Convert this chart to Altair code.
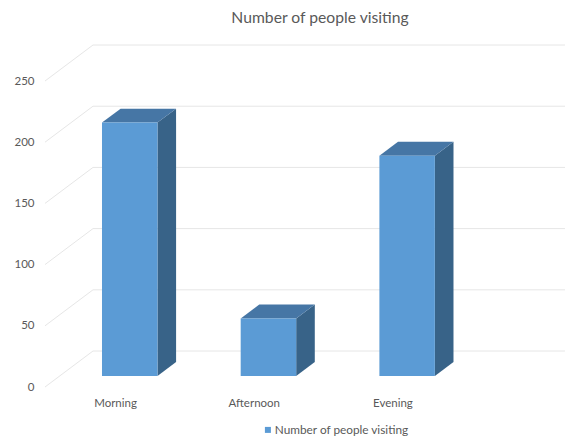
import json
import altair as alt
import pandas as pd

# Chart values
times = ["Morning", "Afternoon", "Evening"]
visitors = [207, 47, 180]
series_name = "Number of people visiting"
value_ticks = [0, 50, 100, 150, 200, 250]

# Oblique projection: a point at depth d (0 = front of floor, 1 = back wall)
# is shifted right and up by d times these amounts, in data units.
DEPTH_X = 0.346
DEPTH_Y = 29.4
BAR_FRONT = 0.306
BAR_BACK = 0.694
BAR_HALF = 0.2
X_DOMAIN = [-0.505, 2.898]

x_scale = alt.Scale(domain=X_DOMAIN, nice=False, zero=False)
y_scale = alt.Scale(domain=[0, 250], nice=False)


def px(x, d):
    return x + d * DEPTH_X


def py(v, d):
    return v + d * DEPTH_Y


# Floor-to-wall diagonals and back-wall gridlines
walls = pd.DataFrame(
    [
        {
            "x_front": X_DOMAIN[0],
            "x_back": px(X_DOMAIN[0], 1),
            "x_end": px(X_DOMAIN[1], 1),
            "y_front": v,
            "y_back": py(v, 1),
        }
        for v in value_ticks
    ]
)

front_rows, side_rows, top_rows = [], [], []
for i, (t, v) in enumerate(zip(times, visitors)):
    left, right = i - BAR_HALF, i + BAR_HALF
    front_rows.append(
        {
            "x": px(left, BAR_FRONT),
            "x2": px(right, BAR_FRONT),
            "y": py(v, BAR_FRONT),
            "y2": py(0, BAR_FRONT),
            "series": series_name,
        }
    )
    for d in (BAR_FRONT, BAR_BACK):
        side_rows.append(
            {"bar": t, "x": px(right, d), "y": py(v, d), "y2": py(0, d)}
        )
        top_rows.append(
            {"bar": t, "y": py(v, d), "x": px(left, d), "x2": px(right, d)}
        )

front = pd.DataFrame(front_rows)
side = pd.DataFrame(side_rows)
top = pd.DataFrame(top_rows)

GRID = "#e6e6e6"
TEXT = "#595959"
FONT = "Lato"

# The same axis definitions go on every layer so they merge cleanly
x_axis = alt.Axis(
    title=None,
    values=[0, 1, 2],
    labelExpr=f"{json.dumps(times)}[datum.value]",
    domain=False,
    ticks=False,
    grid=False,
    labelPadding=10,
    labelFontSize=11.5,
    labelColor=TEXT,
    labelFont=FONT,
)
y_axis = alt.Axis(
    title=None,
    values=value_ticks,
    domain=False,
    ticks=False,
    grid=False,
    labelPadding=11,
    labelFontSize=11.5,
    labelColor=TEXT,
    labelFont=FONT,
)


def xq(field):
    return alt.X(field, scale=x_scale, axis=x_axis)


def yq(field):
    return alt.Y(field, scale=y_scale, axis=y_axis)


side_wall = (
    alt.Chart(walls)
    .mark_rule(color=GRID, strokeWidth=1)
    .encode(x=xq("x_front:Q"), x2="x_back:Q", y=yq("y_front:Q"), y2="y_back:Q")
)
back_wall = (
    alt.Chart(walls)
    .mark_rule(color=GRID, strokeWidth=1)
    .encode(x=xq("x_back:Q"), x2="x_end:Q", y=yq("y_back:Q"))
)
side_faces = (
    alt.Chart(side)
    .mark_area(color="#386388")
    .encode(x=xq("x:Q"), y=yq("y:Q"), y2="y2:Q", detail="bar:N")
)
top_faces = (
    alt.Chart(top)
    .mark_area(color="#4676a5", orient="horizontal")
    .encode(y=yq("y:Q"), x=xq("x:Q"), x2="x2:Q", detail="bar:N")
)
front_faces = (
    alt.Chart(front)
    .mark_rect()
    .encode(
        x=xq("x:Q"),
        x2="x2:Q",
        y=yq("y:Q"),
        y2="y2:Q",
        color=alt.Color(
            "series:N",
            scale=alt.Scale(range=["#5b9bd5"]),
            legend=alt.Legend(
                title=None,
                orient="none",
                legendX=217,
                legendY=343,
                padding=0,
                symbolType="square",
                symbolSize=36,
                symbolStrokeWidth=0,
                labelFontSize=11.8,
                labelColor=TEXT,
                labelFont=FONT,
                labelOffset=1,
            ),
        ),
    )
)

chart = (
    alt.layer(side_wall, back_wall, side_faces, top_faces, front_faces)
    .properties(
        width=472,
        height=306,
        padding={"left": 45, "top": 81, "right": 50, "bottom": 50},
        autosize=alt.AutoSizeParams(type="none"),
        background="white",
        title=alt.TitleParams(
            series_name,
            anchor="middle",
            dx=39,
            offset=18,
            fontSize=15.7,
            fontWeight="normal",
            color=TEXT,
            font=FONT,
        ),
    )
    .configure_view(stroke=None)
)

chart.save("out.html", embed_options={"renderer": "svg", "actions": False})
